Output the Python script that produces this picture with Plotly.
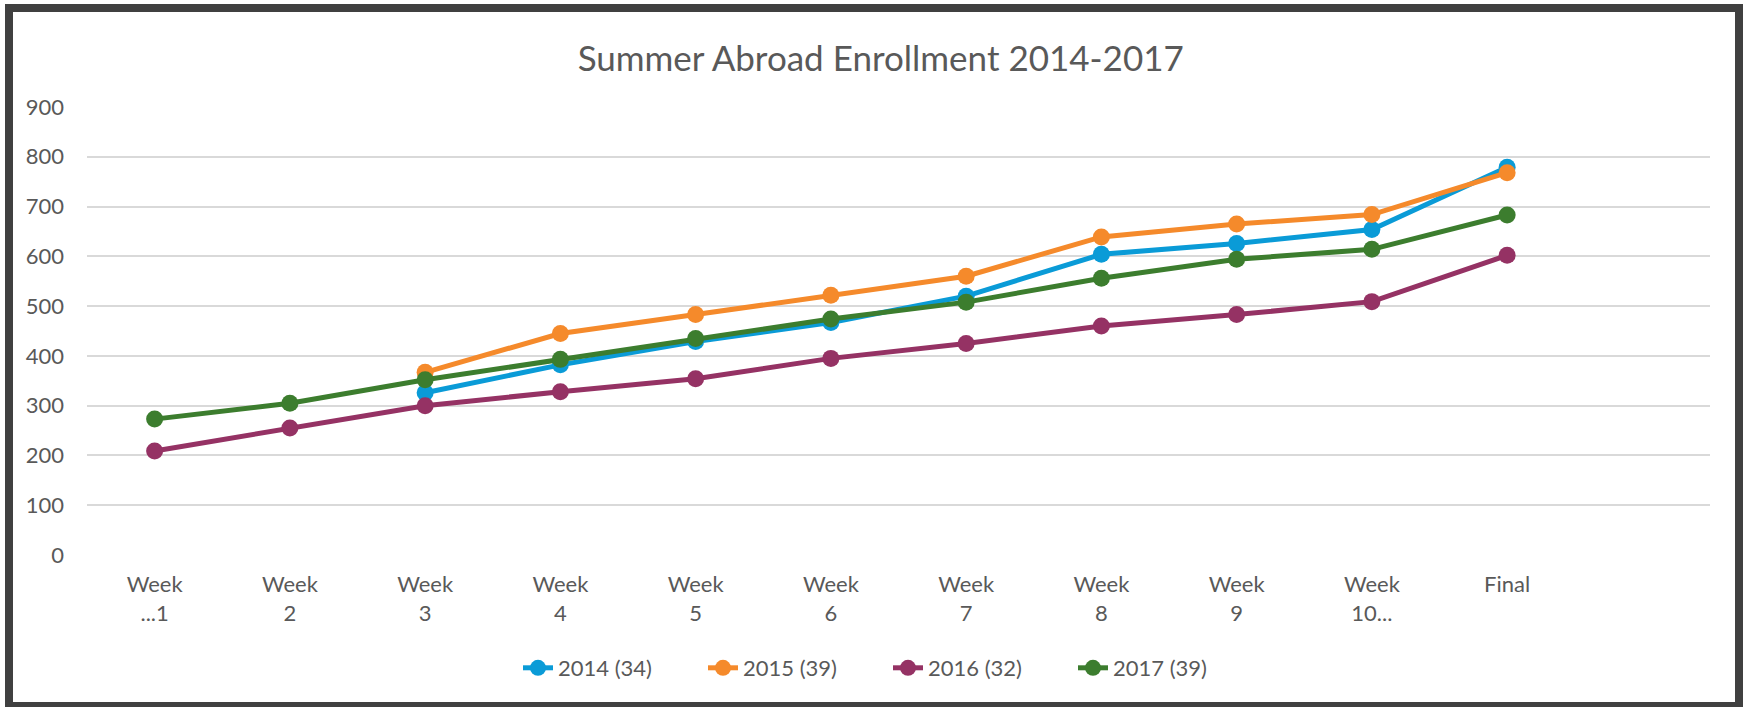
import plotly.graph_objects as go

# Categories (x axis) - labels wrap onto two lines like the source chart
weeks = ["Week<br>...1", "Week<br>2", "Week<br>3", "Week<br>4", "Week<br>5", "Week<br>6",
         "Week<br>7", "Week<br>8", "Week<br>9", "Week<br>10...", "Final"]

# Enrollment per year (None = no data that week)
enroll_2014 = [None, None, 326, 382, 429, 467, 520, 604, 626, 654, 779]
enroll_2015 = [None, None, 367, 445, 483, 522, 560, 639, 665, 684, 768]
enroll_2016 = [209, 255, 300, 328, 354, 395, 425, 460, 483, 509, 602]
enroll_2017 = [273, 305, 352, 393, 435, 474, 508, 556, 594, 614, 683]

series_names = ["2014 (34)", "2015 (39)", "2016 (32)", "2017 (39)"]
series_colors = ["#0A9BD7", "#F58A2B", "#953264", "#3C7D2E"]

TEXT_COLOR = "#595959"
FONT = "Lato"

fig = go.Figure()

for name, vals, color in zip(series_names,
                             [enroll_2014, enroll_2015, enroll_2016, enroll_2017],
                             series_colors):
    fig.add_trace(go.Scatter(
        x=weeks,
        y=vals,
        name=name,
        mode="lines+markers",
        line=dict(color=color, width=5),
        marker=dict(color=color, size=17),
    ))

# page size and plot margins (pixels)
W, H = 1744, 707
L, R, T, B = 87, 34, 107, 152
pw, ph = W - L - R, H - T - B


def px_x(p):
    return (p - L) / pw


def px_y(p):
    return (H - B - p) / ph


# Dark frame around the whole chart
fig.add_shape(type="rect", xref="paper", yref="paper",
              x0=px_x(9), x1=px_x(1739), y0=px_y(8), y1=px_y(706),
              line=dict(color="#404040", width=8), layer="above")

fig.update_layout(
    width=W, height=H,
    margin=dict(l=L, r=R, t=T, b=B),
    plot_bgcolor="white",
    paper_bgcolor="white",
    font=dict(family=FONT, color=TEXT_COLOR, size=22),
    title=dict(text="Summer Abroad Enrollment 2014-2017",
               x=0.505, xref="container", xanchor="center",
               y=1 - 59 / H, yref="container", yanchor="middle",
               font=dict(size=35, color=TEXT_COLOR, family=FONT)),
    legend=dict(orientation="h", x=px_x(888), xanchor="center",
                y=px_y(668), yanchor="middle",
                entrywidth=140, entrywidthmode="pixels",
                font=dict(size=22, color=TEXT_COLOR), traceorder="normal"),
    showlegend=True,
)

fig.update_xaxes(
    type="category",
    range=[-0.5, 11.5],
    showgrid=False,
    showline=False,
    zeroline=False,
    ticks="",
    tickangle=0,
    ticklabelstandoff=14,
    tickfont=dict(size=22, color=TEXT_COLOR),
)
fig.update_yaxes(
    range=[0, 900],
    dtick=100,
    showgrid=True,
    gridcolor="#D9D9D9",
    gridwidth=1.5,
    zeroline=False,
    showline=False,
    ticks="",
    ticklabelstandoff=22,
    tickfont=dict(size=22, color=TEXT_COLOR),
)

# drop the default 8px body margin so the figure sits at the window corner
fig.write_html("out.html", config={"displayModeBar": False},
               post_script="document.body.style.margin='0';")
